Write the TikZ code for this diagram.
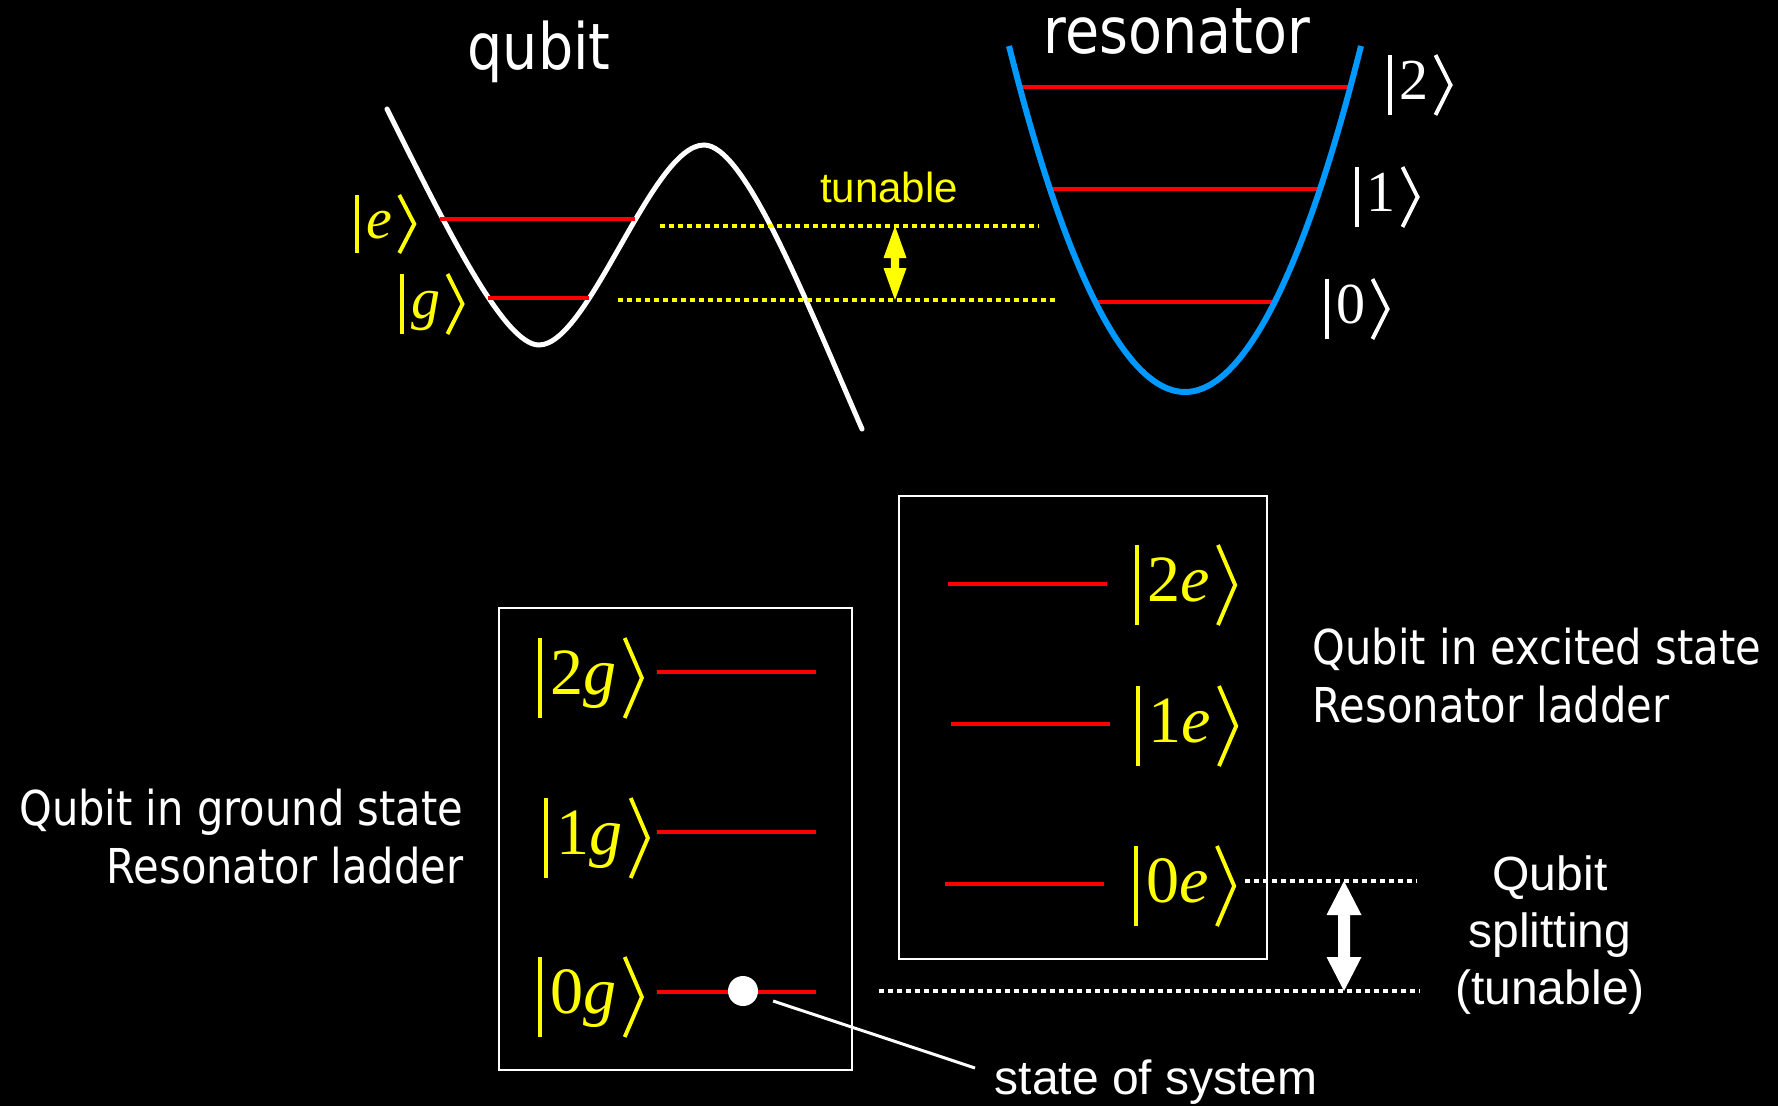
\documentclass[tikz,border=0pt]{standalone}
\usepackage{fontspec}
\usetikzlibrary{calc}
\setmainfont{Liberation Serif}
\newfontfamily\tah[FakeStretch=0.867]{DejaVu Sans}
\newfontfamily\arl{Liberation Sans}
\newfontfamily\kfont{Liberation Serif}
\definecolor{kyellow}{RGB}{255,255,0}
\definecolor{kred}{RGB}{255,0,0}
\definecolor{kblue}{RGB}{0,153,255}

\newcommand\ketlabel[7]{%
  \coordinate (#1-c) at (#2,#3);
  \node[anchor=base west, inner sep=0pt, text=#5, font=\kfont\fontsize{#6}{#6}\selectfont] (#1) at ({#2+0.15*#6*3.515},{#3+0.25*#6*3.515}) {#7};
  \draw[#5, line width=1.1pt] ({#2},{#3-#4}) -- ({#2},{#3+#4});
  \draw[#5, line width=1.1pt, line join=miter, miter limit=10] ($(#1.east|-#1-c)+({0.11*#6*3.515},{-#4})$) -- ($(#1.east|-#1-c)+({0.37*#6*3.515},0)$) -- ($(#1.east|-#1-c)+({0.11*#6*3.515},{#4})$);
}
\newcommand\blockarrow[6]{%
  \fill[#6] (#1) -- ($(#1)+(#3,#4)$) -- ($(#1)+(#5,#4)$) -- ($(#2)+(#5,-#4)$) -- ($(#2)+(#3,-#4)$) -- (#2)
    -- ($(#2)+(-#3,-#4)$) -- ($(#2)+(-#5,-#4)$) -- ($(#1)+(-#5,#4)$) -- ($(#1)+(-#3,#4)$) -- cycle;
}

\tikzset{
  lvlT/.style={draw=kred, line width=1.42pt},
  lvlB/.style={draw=kred, line width=1.14pt},
  dotln/.style={line width=1.14pt, dash pattern=on 1.28pt off 1.28pt},
  bigtxt/.style={text=white, inner sep=0pt, font=\tah\fontsize{18.2}{22}\selectfont},
  tahtxt/.style={text=white, inner sep=0pt, font=\tah\fontsize{13.66}{16}\selectfont},
  arltxt/.style={text=white, inner sep=0pt, font=\arl\fontsize{13.65}{16}\selectfont},
}

\begin{document}
\begin{tikzpicture}[x=0.01cm, y=-0.01cm]
\fill[black] (0,0) rectangle (1778,1106);
\useasboundingbox (0,0) rectangle (1778,1106);

% titles
\node[bigtxt, anchor=base] (qubit) at (539,70) {qubit};
\node[bigtxt, anchor=base] (reson) at (1177,53) {resonator};

% qubit potential
\draw[white, line width=1.42pt, line cap=round]
  (387,109) .. controls (447,229) and (504,345) .. (539,345)
  .. controls (589,345) and (652,145) .. (704,145)
  .. controls (744,145) and (802,291) .. (862,429);
\draw[lvlT] (440,219) -- (635,219);
\draw[lvlT] (488,298) -- (589,298);

% resonator potential
\draw[lvlT] (1017,87) -- (1348,87);
\draw[lvlT] (1052,189) -- (1318,189);
\draw[lvlT] (1093,302) -- (1275,302);
\draw[kblue, line width=1.7pt] (1009,46) parabola bend (1185,392) (1361,46);

% yellow tunable
\coordinate (yd1a) at (660,226); \coordinate (yd1b) at (1039,226);
\coordinate (yd2a) at (618,300); \coordinate (yd2b) at (1059,300);
\draw[kyellow, dotln] (yd1a) -- (yd1b);
\draw[kyellow, dotln] (yd2a) -- (yd2b);
\coordinate (ya1) at (895,226); \coordinate (ya2) at (895,300);
\blockarrow{ya1}{ya2}{11.5}{32}{4.2}{kyellow}
\node[text=kyellow, inner sep=0pt, font=\arl\fontsize{11.95}{14}\selectfont, anchor=base] (tun) at (889,202) {tunable};

% top kets
\ketlabel{ke}{357}{224}{29}{kyellow}{16.5}{\textit{e}}
\ketlabel{kg}{402}{304}{30}{kyellow}{16.5}{\textit{g}}
\ketlabel{k2}{1390}{85}{30}{white}{16.5}{2}
\ketlabel{k1}{1357}{197}{30}{white}{16.5}{1}
\ketlabel{k0}{1327}{309}{30}{white}{16.5}{0}

% boxes
\draw[white, line width=0.7pt] (499,608) rectangle (852,1070);
\draw[white, line width=0.7pt] (899,496) rectangle (1267,959);

% bottom levels
\draw[lvlB] (657,672) -- (816,672);
\draw[lvlB] (657,832) -- (816,832);
\draw[lvlB] (657,992) -- (816,992);
\draw[lvlB] (948,584) -- (1107,584);
\draw[lvlB] (951,724) -- (1110,724);
\draw[lvlB] (945,884) -- (1104,884);

\ketlabel{k2g}{540}{678}{40}{kyellow}{18.8}{2\textit{g}}
\ketlabel{k1g}{546}{838}{40}{kyellow}{18.8}{1\textit{g}}
\ketlabel{k0g}{540}{997}{40}{kyellow}{18.8}{0\textit{g}}
\ketlabel{k2e}{1137}{585}{40}{kyellow}{18.8}{2\textit{e}}
\ketlabel{k1e}{1138}{726}{40}{kyellow}{18.8}{1\textit{e}}
\ketlabel{k0e}{1136}{886}{40}{kyellow}{18.8}{0\textit{e}}

% state of system
\node[circle, fill=white, inner sep=0pt, minimum size=0.3cm] (dot) at (743,991) {};
\node[arltxt, anchor=base west] (state) at (994,1094) {state of system};
\coordinate (lineend) at (975,1068);
\draw[white, line width=0.85pt, shorten <=0.16cm] (dot) -- (lineend);

% qubit splitting
\coordinate (wd1a) at (1245,881); \coordinate (wd1b) at (1417,881);
\coordinate (wd2a) at (879,991); \coordinate (wd2b) at (1420,991);
\draw[white, dotln] (wd1a) -- (wd1b);
\draw[white, dotln] (wd2a) -- (wd2b);
\coordinate (wa1) at (1344,881); \coordinate (wa2) at (1344,991);
\blockarrow{wa1}{wa2}{17.5}{34}{6}{white}
\node[arltxt, anchor=base] (sp1) at (1550,890) {Qubit};
\node[arltxt, anchor=base] (sp2) at (1550,947) {splitting};
\node[arltxt, anchor=base] (sp3) at (1550,1004) {(tunable)};

% side texts
\node[tahtxt, anchor=base west] (exc1) at (1312,664) {Qubit in excited state};
\node[tahtxt, anchor=base west] (exc2) at (1312,722) {Resonator ladder};
\node[tahtxt, anchor=base east] (gr1) at (464,825) {Qubit in ground state};
\node[tahtxt, anchor=base east] (gr2) at (464,883) {Resonator ladder};
\end{tikzpicture}
\end{document}
